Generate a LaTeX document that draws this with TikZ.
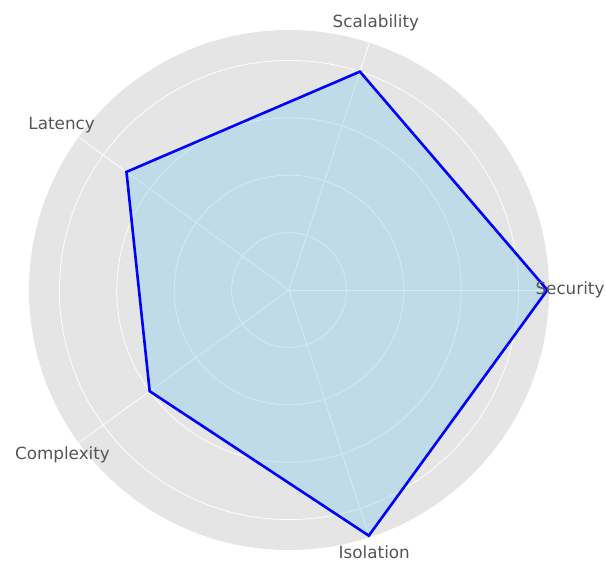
\documentclass[tikz,border=0pt]{standalone}
\usepackage{fontspec}
\setmainfont{DejaVu Sans}
\definecolor{panel}{HTML}{E5E5E5}
\definecolor{labelgray}{HTML}{555555}
\definecolor{skyblue}{RGB}{135,206,235}
\tikzset{
  gridline/.style={draw=white, line width=0.75pt},
  axislabel/.style={text=labelgray, font=\fontsize{16.8}{20}\selectfont, inner sep=0pt, anchor=center},
  dataline/.style={draw=blue, line width=2.6pt, line join=miter},
  datafill/.style={fill=skyblue, fill opacity=0.4},
}
\begin{document}
\begin{tikzpicture}[x=1pt,y=1pt]
\useasboundingbox (-289,-272) rectangle (316,290);
% panel
\fill[panel] (0,0) circle (260);
% grid rings
\foreach \r in {57.4,114.8,172.2,229.6} \draw[gridline] (0,0) circle (\r);
% spokes
\foreach \a in {0,72,144,216,288} \draw[gridline] (0,0) -- (\a:260);
% data vertices
\coordinate (sec) at (0:258.3);
\coordinate (sca) at (72:229.6);
\coordinate (lat) at (144:200.9);
\coordinate (com) at (216:172.2);
\coordinate (iso) at (288:258.3);
\fill[datafill] (sec) -- (sca) -- (lat) -- (com) -- (iso) -- cycle;
\draw[dataline] (sec) -- (sca) -- (lat) -- (com) -- (iso) -- cycle;
% labels
\node[axislabel] (lsec) at (0:281) {Security};
\node[axislabel] (lsca) at (72:281) {Scalability};
\node[axislabel] (llat) at (144:281) {Latency};
\node[axislabel] (lcom) at (216:280) {Complexity};
\node[axislabel] (liso) at (288:276) {Isolation};
\end{tikzpicture}
\end{document}
